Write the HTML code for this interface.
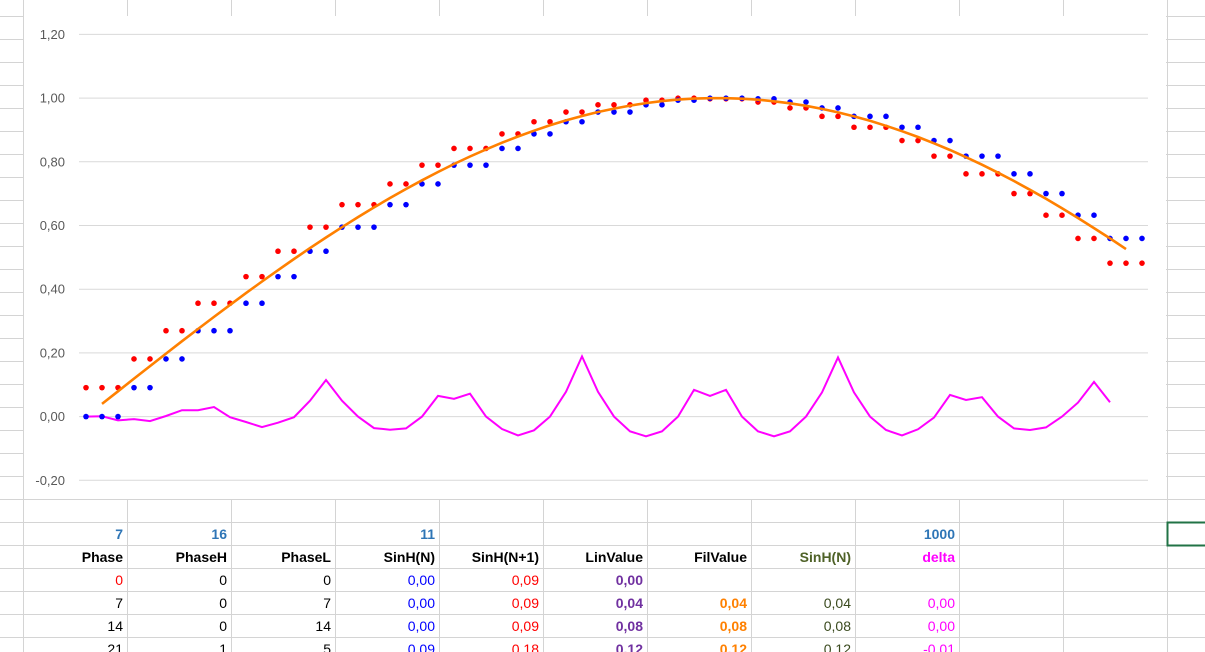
<!DOCTYPE html>
<html><head><meta charset="utf-8"><style>
html,body{margin:0;padding:0;background:#fff;width:1205px;height:652px;overflow:hidden;position:relative;font-family:"Liberation Sans",sans-serif}
.c{position:absolute;font-size:14px;text-align:right;width:100px;line-height:23px}
.b{font-weight:bold}
</style></head><body>
<svg width="1205" height="652" style="position:absolute;left:0;top:0">
<g id="grid" stroke="#d4d4d4" stroke-width="1"></g>
<rect x="24" y="16" width="1142" height="483" fill="#fff"/>
<g id="chart"></g>
<rect x="1167.5" y="522.5" width="40" height="23" fill="none" stroke="#217346" stroke-width="2"/>
</svg>
<div id="cells"></div>
<script>
var ns="http://www.w3.org/2000/svg";
function el(p,t,a){var e=document.createElementNS(ns,t);for(var k in a)e.setAttribute(k,a[k]);p.appendChild(e);return e;}
var g=document.getElementById('grid');
var cols=[23,127,231,335,439,543,647,751,855,959,1063,1167];
cols.forEach(function(x){el(g,'line',{x1:x+.5,y1:0,x2:x+.5,y2:652});});
for(var y=16;y<652;y+=23){el(g,'line',{x1:0,y1:y+.5,x2:1205,y2:y+.5});}
var c=document.getElementById('chart');
function Y(v){return 416.6-v*318.5;}
function X(i){return 86+16*i;}
for(var k=0;k<8;k++){var v=1.2-0.2*k;var yy=Y(v);
el(c,'line',{x1:79,y1:yy,x2:1148,y2:yy,stroke:'#d9d9d9','stroke-width':1});
var t=el(c,'text',{x:65,y:yy+4.5,'text-anchor':'end','font-size':'13','fill':'#595959','font-family':'Liberation Sans, sans-serif'});
t.textContent=(v<-0.001?'-':'')+Math.abs(v).toFixed(2).replace('.',',');}
var d=0.091;
var op='';for(var i=1;i<=65;i++){op+=(i==1?'M':'L')+X(i)+','+Y(Math.sin(d*7*i/16)).toFixed(1);}
var m=[0,0.001,-0.012,-0.008,-0.014,0.002,0.02,0.02,0.03,-0.002,-0.017,-0.033,-0.019,-0.002,0.05,0.115,0.05,0,-0.036,-0.041,-0.037,0,0.065,0.056,0.072,0,-0.039,-0.059,-0.043,0,0.078,0.189,0.078,0,-0.046,-0.062,-0.046,0,0.084,0.065,0.084,0,-0.046,-0.062,-0.046,0,0.076,0.186,0.076,0,-0.042,-0.059,-0.040,-0.003,0.068,0.052,0.061,0,-0.037,-0.042,-0.034,0,0.044,0.109,0.045];
var mp='';m.forEach(function(v,i){mp+=(i?'L':'M')+X(i)+','+Y(v).toFixed(1);});
el(c,'path',{d:mp,fill:'none',stroke:'#ff00ff','stroke-width':2});
for(var i=0;i<=66;i++){var h=Math.floor(7*i/16);
el(c,'circle',{cx:X(i),cy:Y(Math.sin(d*(h+1))),r:2.8,fill:'#ff0000'});
el(c,'circle',{cx:X(i),cy:Y(Math.sin(d*h)),r:2.8,fill:'#0000ff'});}
el(c,'path',{d:op,fill:'none',stroke:'#ff8000','stroke-width':2.6});
var rows=[
[[0,'7','#2e75b6',1],[1,'16','#2e75b6',1],[3,'11','#2e75b6',1],[8,'1000','#2e75b6',1]],
[[0,'Phase','#000',1],[1,'PhaseH','#000',1],[2,'PhaseL','#000',1],[3,'SinH(N)','#000',1],[4,'SinH(N+1)','#000',1],[5,'LinValue','#000',1],[6,'FilValue','#000',1],[7,'SinH(N)','#4f6228',1],[8,'delta','#ff00ff',1]],
[[0,'0','#ff0000'],[1,'0','#000'],[2,'0','#000'],[3,'0,00','#0000ff'],[4,'0,09','#ff0000'],[5,'0,00','#7030a0',1]],
[[0,'7','#000'],[1,'0','#000'],[2,'7','#000'],[3,'0,00','#0000ff'],[4,'0,09','#ff0000'],[5,'0,04','#7030a0',1],[6,'0,04','#ff8000',1],[7,'0,04','#3a4a1e'],[8,'0,00','#ff00ff']],
[[0,'14','#000'],[1,'0','#000'],[2,'14','#000'],[3,'0,00','#0000ff'],[4,'0,09','#ff0000'],[5,'0,08','#7030a0',1],[6,'0,08','#ff8000',1],[7,'0,08','#3a4a1e'],[8,'0,00','#ff00ff']],
[[0,'21','#000'],[1,'1','#000'],[2,'5','#000'],[3,'0,09','#0000ff'],[4,'0,18','#ff0000'],[5,'0,12','#7030a0',1],[6,'0,12','#ff8000',1],[7,'0,12','#3a4a1e'],[8,'-0,01','#ff00ff']]];
var h='';rows.forEach(function(r,ri){r.forEach(function(q){
var x=cols[q[0]+1]-104;h+='<div class="c'+(q[3]?' b':'')+'" style="left:'+x+'px;top:'+(523+ri*23)+'px;color:'+q[2]+'">'+q[1]+'</div>';});});
document.getElementById('cells').innerHTML=h;
</script>
</body></html>
